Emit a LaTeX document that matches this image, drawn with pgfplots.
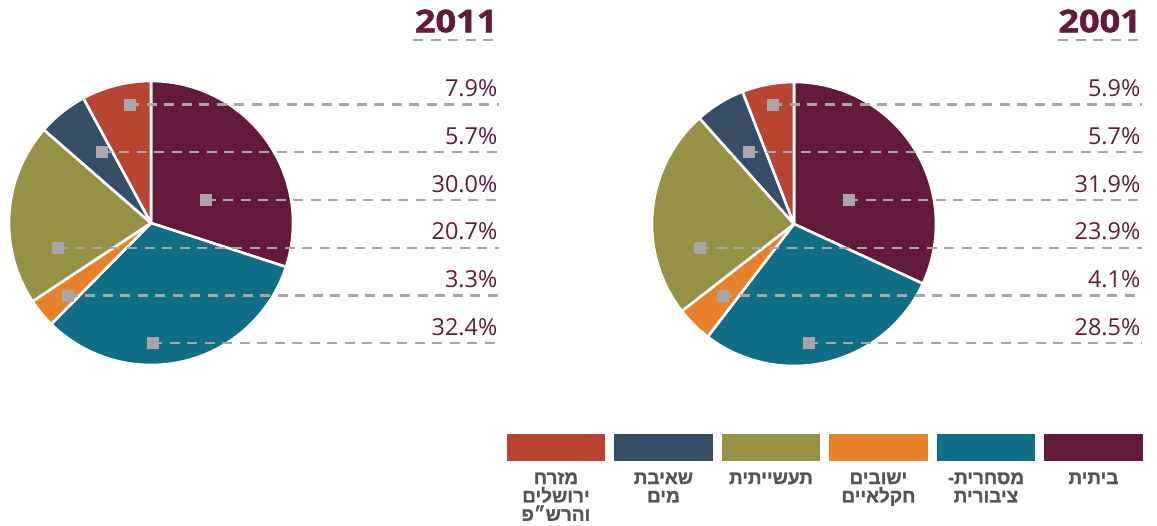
\documentclass[border=0pt]{standalone}
\usepackage{pgfplots}
\pgfplotsset{compat=1.18}
\usepackage{fontspec}
\setmainfont{Open Sans}
\newfontfamily\titlefont{Open Sans}[BoldFeatures={FakeBold=1.4}]
\newfontfamily\hebfont[Script=Hebrew, BoldFeatures={FakeBold=1.2}]{Liberation Sans}
\TeXXeTstate=1
\definecolor{cMaroon}{HTML}{641A3A}
\definecolor{cTeal}{HTML}{116E87}
\definecolor{cOrange}{HTML}{E8812C}
\definecolor{cOlive}{HTML}{979145}
\definecolor{cNavy}{HTML}{374E67}
\definecolor{cRed}{HTML}{B84532}
\definecolor{cGray}{HTML}{A7A7A9}
\definecolor{cText}{HTML}{555555}

\xdef\cum{0}
% #1 cx, #2 cy, #3 r, #4 value (percent), #5 colour
\newcommand\pieslice[5]{%
  \pgfmathsetmacro\sa{90-3.6*\cum}%
  \pgfmathsetmacro\sb{90-3.6*(\cum+#4)}%
  \edef\temp{\noexpand\addplot[fill=#5, draw=white, line width=2.6bp, line join=round,
     domain=\sb:\sa, samples=120, variable=\noexpand\t]
     ({#1+#3*cos(\noexpand\t)},{#2-#3*sin(\noexpand\t)}) -- (axis cs:#1,#2) -- cycle;}%
  \temp
  \pgfmathsetmacro\tmp{\cum+#4}\xdef\cum{\tmp}%
}
\newcommand\leader[4]{% x0, y, xend, label
  \addplot[cGray, line width=2.4bp, dash pattern=on 10bp off 7.5bp] coordinates {(#1,#2) (#3,#2)};
  \pgfmathsetmacro\by{#2-7.8}%
  \edef\temp{\noexpand\node[anchor=base east, inner sep=0pt, text=cMaroon,
     font=\noexpand\fontsize{23.5}{28}\noexpand\selectfont] at (axis cs:#3-1.5,\by) {#4};}%
  \temp
}
\tikzset{legtext/.style={anchor=base, inner sep=0pt, text=cText,
     font=\hebfont\bfseries\fontsize{19}{21}\selectfont}}
\newcommand\legitem[5]{% x left, colour, line1, line2, line3
  \fill[#2] (axis cs:#1,434) rectangle (axis cs:#1+98.5,460.7);
  \node[legtext] at (axis cs:#1+49.25,484) {\beginR #3\endR};
  \node[legtext] at (axis cs:#1+49.25,502.4) {\beginR #4\endR};
  \node[legtext] at (axis cs:#1+49.25,520.8) {\beginR #5\endR};
}

\begin{document}
\begin{tikzpicture}
\useasboundingbox (0,0) rectangle (1157bp,526bp);
\begin{axis}[
  at={(0,0)}, anchor=south west,
  x=1bp, y=1bp, xmin=0, xmax=1157, ymin=0, ymax=526,
  y dir=reverse, hide axis, clip=false]

% ---- 2011 pie ----
\xdef\cum{0}
\pieslice{151}{223}{142}{30.0}{cMaroon}
\pieslice{151}{223}{142}{32.4}{cTeal}
\pieslice{151}{223}{142}{3.3}{cOrange}
\pieslice{151}{223}{142}{20.7}{cOlive}
\pieslice{151}{223}{142}{5.7}{cNavy}
\pieslice{151}{223}{142}{7.9}{cRed}

% ---- 2001 pie ----
\xdef\cum{0}
\pieslice{794}{224}{142}{31.9}{cMaroon}
\pieslice{794}{224}{142}{28.5}{cTeal}
\pieslice{794}{224}{142}{4.1}{cOrange}
\pieslice{794}{224}{142}{23.9}{cOlive}
\pieslice{794}{224}{142}{5.7}{cNavy}
\pieslice{794}{224}{142}{5.9}{cRed}

% leaders 2011
\leader{129.3}{104.3}{499}{7.9\%}
\leader{101.7}{152}{499}{5.7\%}
\leader{205.7}{200}{499}{30.0\%}
\leader{57.3}{247.7}{499}{20.7\%}
\leader{67.7}{295.3}{499}{3.3\%}
\leader{152.3}{343}{499}{32.4\%}
% leaders 2001
\leader{772.3}{104.3}{1142}{5.9\%}
\leader{748.3}{152}{1142}{5.7\%}
\leader{848.3}{200}{1142}{31.9\%}
\leader{699.3}{247.7}{1142}{23.9\%}
\leader{722.3}{295.3}{1142}{4.1\%}
\leader{808.3}{343}{1142}{28.5\%}

\addplot[only marks, mark=square*, mark size=5.6bp, color=cGray] coordinates {
 (129.3,104.3) (101.7,152) (205.7,200) (57.3,247.7) (67.7,295.3) (152.3,343)
 (772.3,104.3) (748.3,152) (848.3,200) (699.3,247.7) (722.3,295.3) (808.3,343)};

% titles
\addplot[cGray, line width=2.4bp, dash pattern=on 10bp off 7.5bp] coordinates {(413,40) (499,40)};
\addplot[cGray, line width=2.4bp, dash pattern=on 10bp off 7.5bp] coordinates {(1058,40) (1142,40)};
\node[anchor=base east, inner sep=0pt, text=cMaroon, font=\titlefont\bfseries\fontsize{31.5}{36}\selectfont] at (axis cs:497.5,32.3) {\scalebox{1.15}[1]{2011}};
\node[anchor=base east, inner sep=0pt, text=cMaroon, font=\titlefont\bfseries\fontsize{31.5}{36}\selectfont] at (axis cs:1141,32.3) {\scalebox{1.15}[1]{2001}};

% legend
\legitem{506.7}{cRed}{מזרח}{ירושלים}{והרש״פ}
\legitem{614.2}{cNavy}{שאיבת}{מים}{}
\legitem{721.7}{cOlive}{תעשייתית}{}{}
\legitem{829.2}{cOrange}{ישובים}{חקלאיים}{}
\legitem{936.7}{cTeal}{מסחרית-}{ציבורית}{}
\legitem{1044.2}{cMaroon}{ביתית}{}{}
\end{axis}
\end{tikzpicture}
\end{document}
